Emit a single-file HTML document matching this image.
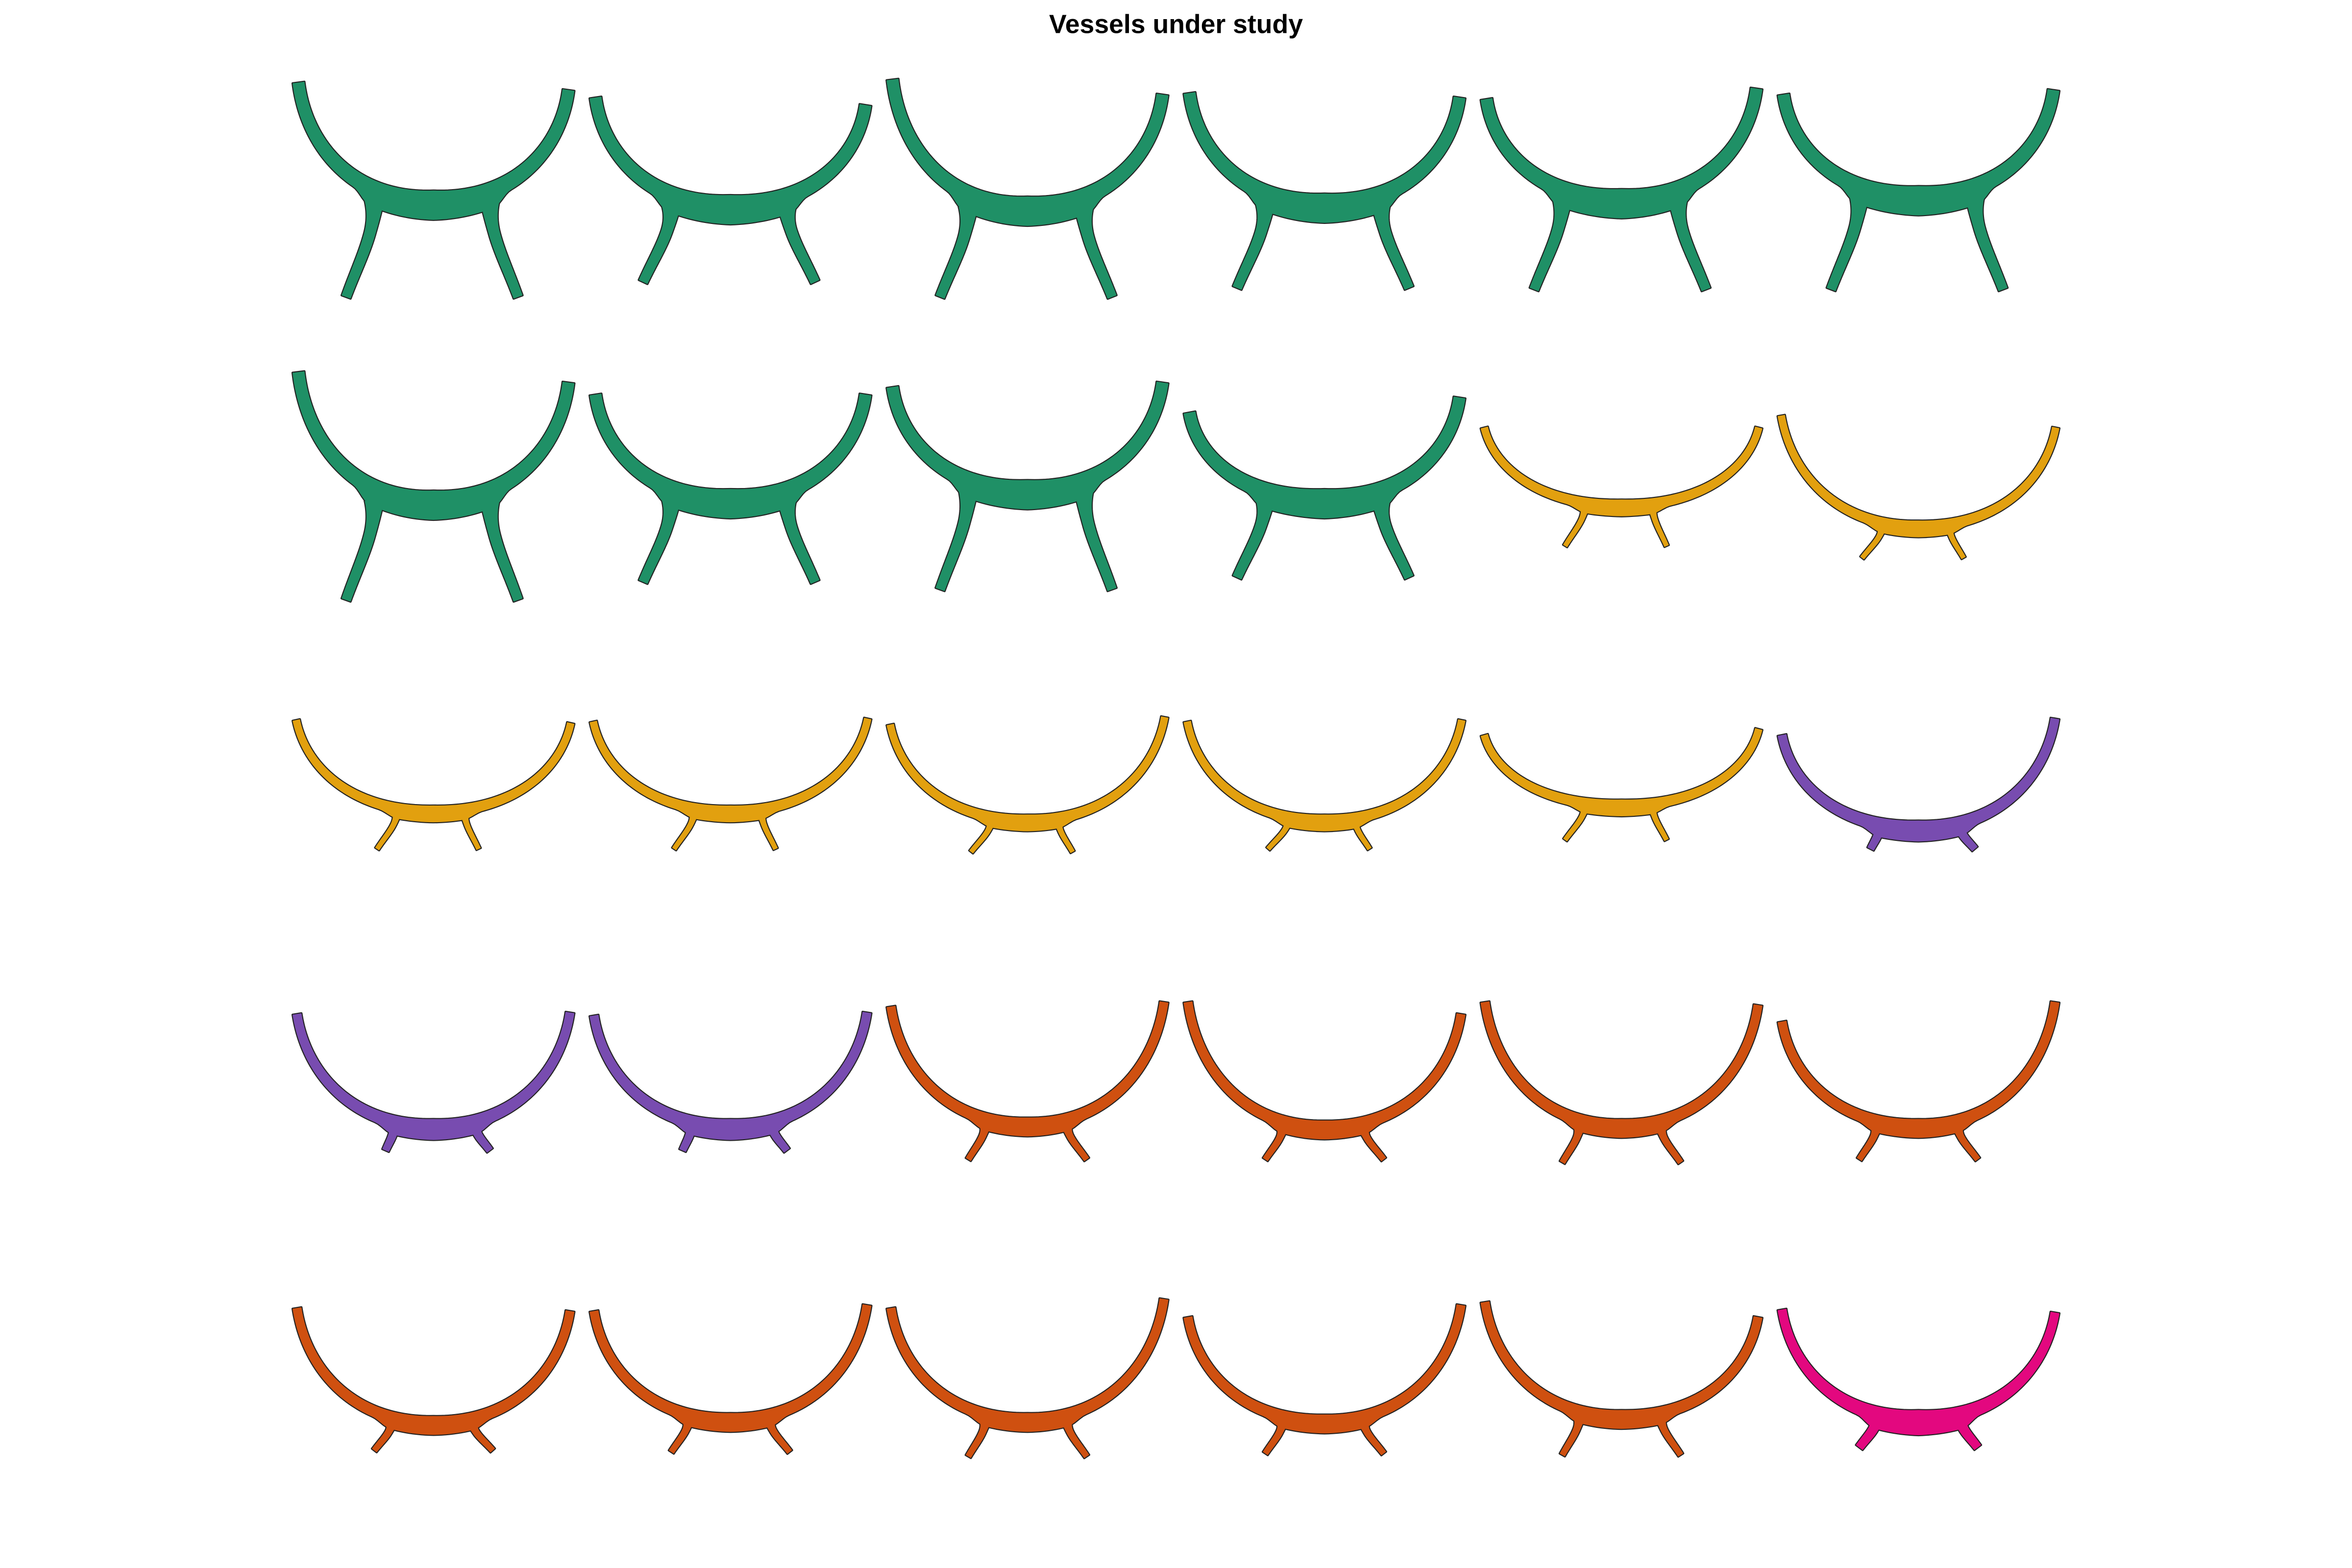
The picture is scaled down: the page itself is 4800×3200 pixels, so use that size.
<!DOCTYPE html>
<html><head><meta charset="utf-8"><style>html,body{margin:0;padding:0;background:#fff}svg{display:block}</style></head>
<body>
<svg id="chart" width="4800" height="3200" viewBox="0 0 1568 1045.33" xmlns="http://www.w3.org/2000/svg">
<text x="784" y="22" text-anchor="middle" font-family="Liberation Sans, sans-serif" font-weight="bold" font-size="17.5">Vessels under study</text>
<g id="shapes"></g>
</svg>
<script>
// per-vessel data (row-major, 6 per row)
const groups = ["g","g","g","g","g","g","g","g","g","g","y","y","y","y","y","y","y","p","p","p","o","o","o","o","o","o","o","o","o","m"];
const topLeft = [55,65,53,62,66,63, 248,263,258,275,285,277, 480,481,483,481,490,490, 676,677,671,668,668,681, 872,874,872,878,868,873];
const topRight = [60,70,63,65,59,60, 255,263,255,265,285,285, 482,479,478,480,486,479, 675,675,668,676,670,668, 874,870,866,870,878,875];
const archBottom = [127,130,131,129,126,124, 327,326,320,326,333,347, 537,537,543,543,533,547, 746,746,745,747,746,746, 944,942,942,943,940,940];
const legBottom = [198,188,198,192,193,193, 400,388,393,385,364,372, 566,566,568,566,560,566, 767,767,773,773,775,773, 967,968,971,969,970,965];
const colors = {g:"#1f9066", y:"#e2a00f", p:"#784cb0", o:"#cf5010", m:"#e3087f"};
const thickTop = {g:8, y:5, p:6, o:6, m:6};
const thickBottom = {g:14, y:8, p:10, o:9, m:12};
const legWidth = {g:8, y:4, p:6, o:5, m:7};
const legAttachL = {g:0.29, y:0.37, p:0.36, o:0.35, m:0.35};
const legAttachR = {g:0.70, y:0.61, p:0.65, o:0.64, m:0.65};
const legL = {g:0.19, y:0.30, p:0.33, o:0.29, m:0.29};
const legR = {g:0.80, y:0.66, p:0.70, o:0.71, m:0.71};

const colX = i => 195 + (i % 6) * 198;
const W = 188;
const NS = 'http://www.w3.org/2000/svg';
const root = document.getElementById('shapes');

function cubic(p0,p1,p2,p3,t){const u=1-t;return [u*u*u*p0[0]+3*u*u*t*p1[0]+3*u*t*t*p2[0]+t*t*t*p3[0], u*u*u*p0[1]+3*u*u*t*p1[1]+3*u*t*t*p2[1]+t*t*t*p3[1]];}
function ribbon(pts, widths, offs){
  const L=[],R=[];
  for(let i=0;i<pts.length;i++){
    const a=pts[Math.max(0,i-1)], b=pts[Math.min(pts.length-1,i+1)];
    let dx=b[0]-a[0], dy=b[1]-a[1]; const n=Math.hypot(dx,dy)||1; dx/=n; dy/=n;
    const h=widths[i]/2, o=offs?offs[i]:0;
    L.push([pts[i][0]-dy*(h+o), pts[i][1]+dx*(h+o)]); R.push([pts[i][0]+dy*(h-o), pts[i][1]-dx*(h-o)]);
  }
  const all=L.concat(R.reverse());
  return 'M'+all.map(p=>p[0].toFixed(2)+','+p[1].toFixed(2)).join(' L')+' Z';
}
const smooth = (a,b,x)=>{const t=Math.min(1,Math.max(0,(x-a)/(b-a)));return t*t*(3-2*t);};

for (let i = 0; i < groups.length; i++) {
  const k = groups[i], x0 = colX(i);
  const yTL = topLeft[i], yTR = topRight[i], yB = archBottom[i], yL = legBottom[i];
  const th = thickTop[k], tb = thickBottom[k], lw = legWidth[k];
  const ym = yB + tb/2;
  const N = 60;
  const pts=[], ws=[], os=[];
  const P0=[x0+th/2, yTL], P3=[x0+W/2, ym];
  const Q0=[x0+W-th/2, yTR];
  const addW = (p, t, fa) => {
    const fx = Math.abs(p[0]-(x0+W/2))/W; const fl = 0.5-fa;
    const e = tb*0.4*(1-smooth(fl-0.01, fl+0.06, fx));
    ws.push(th+(tb-th)*t*t + e); os.push(e/2);
  };
  for(let j=0;j<=N;j++){const t=j/N; const p=cubic(P0,[x0+0.05*W, yTL+(ym-yTL)*0.55],[x0+0.22*W, ym],P3,t); pts.push(p); addW(p,t,legAttachL[k]);}
  for(let j=N-1;j>=0;j--){const t=j/N; const p=cubic(Q0,[x0+0.95*W, yTR+(ym-yTR)*0.55],[x0+0.78*W, ym],P3,t); pts.push(p); addW(p,t,1-legAttachR[k]);}
  const paths=[ribbon(pts,ws,os)];
  [[legAttachL[k], legL[k]],[legAttachR[k], legR[k]]].forEach(([fa,fb])=>{
    const A=[x0+fa*W, ym], B=[x0+fb*W, yL];
    const lp=[], lwid=[];
    for(let j=0;j<=N;j++){const t=j/N; lp.push(cubic(A,[A[0], A[1]+(yL-A[1])*0.35],[A[0]+(B[0]-A[0])*0.5, A[1]+(yL-A[1])*0.6],B,t));
      lwid.push(lw*(1+0.6*Math.max(0,1-t/0.35)**2) * (1-0.2*t));}
    paths.push(ribbon(lp,lwid));
  });
  const g = document.createElementNS(NS,'g');
  
  
  paths.forEach(d=>{const p=document.createElementNS(NS,'path');p.setAttribute('d',d);p.setAttribute('fill','#222');p.setAttribute('stroke','#222');p.setAttribute('stroke-width','1.4');p.setAttribute('stroke-linejoin','round');g.appendChild(p);});
  paths.forEach(d=>{const p=document.createElementNS(NS,'path');p.setAttribute('d',d);p.setAttribute('fill',colors[k]);g.appendChild(p);});
  root.appendChild(g);
}
</script>
</body></html>
